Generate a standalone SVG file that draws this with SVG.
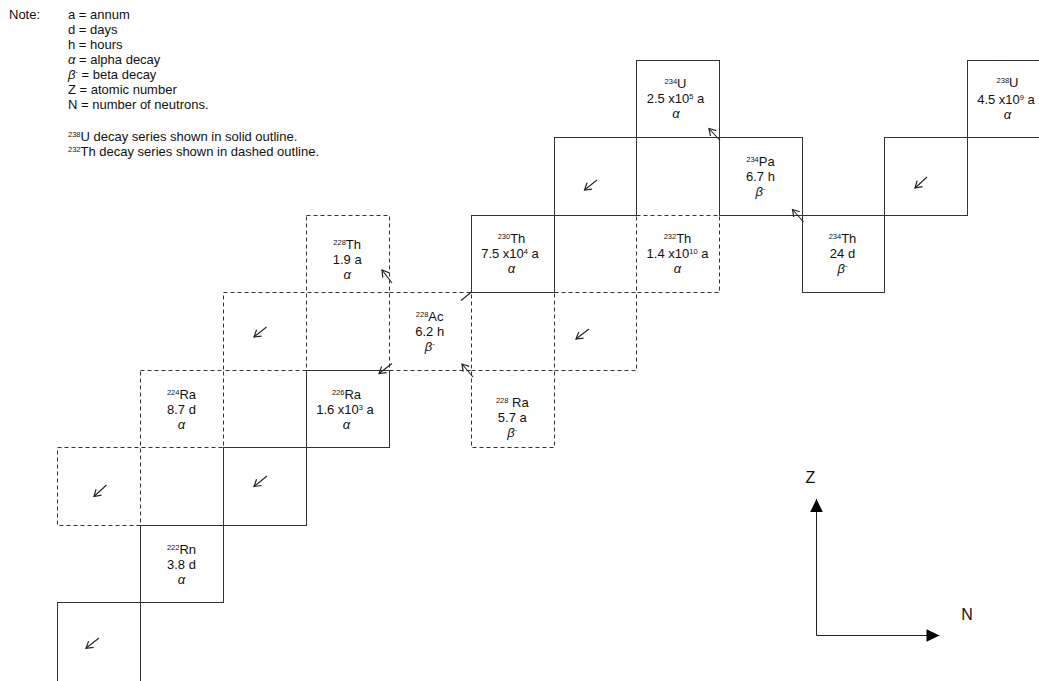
<svg xmlns="http://www.w3.org/2000/svg" width="1039" height="681" viewBox="0 0 1039 681">
<style>
  text { font-family: "Liberation Sans", Arial, sans-serif; fill: #111; }
  .note { font-size: 13px; }
  .lab { font-size: 13px; text-anchor: middle; }
  .s { font-size: 7.5px; }
  .i { font-style: italic; }
  .ax { font-size: 16px; text-anchor: middle; }
  .solid { fill: none; stroke: #333; stroke-width: 1; }
  .dash { fill: none; stroke: #333; stroke-width: 1; stroke-dasharray: 4 3; }
  .arr { fill: none; stroke: #222; stroke-width: 1.1; marker-end: url(#oa); }
  .seg { fill: none; stroke: #222; stroke-width: 1.1; }
  .axis { fill: none; stroke: #222; stroke-width: 1; marker-end: url(#fa); }
</style>
<defs>
  <marker id="oa" markerUnits="userSpaceOnUse" markerWidth="14" markerHeight="14" viewBox="-8 -7 10 14" refX="0" refY="0" orient="auto" overflow="visible">
    <path d="M-6.5,-4 L0,0 L-6.5,4" fill="none" stroke="#222" stroke-width="1.2"/>
  </marker>
  <marker id="fa" markerUnits="userSpaceOnUse" markerWidth="16" markerHeight="16" viewBox="-14 -8 16 16" refX="0" refY="0" orient="auto" overflow="visible">
    <path d="M-13,-6.3 L0,0 L-13,6.3 Z" fill="#000"/>
  </marker>
</defs>
<rect x="0" y="0" width="1039" height="681" fill="#fff"/>

<g id="legend">
  <text class="note" x="9" y="18.5">Note:</text>
  <text class="note" x="68" y="18.5">a = annum</text>
  <text class="note" x="68" y="33.5">d = days</text>
  <text class="note" x="68" y="48.5">h = hours</text>
  <text class="note" x="68" y="63.5"><tspan class="i">α</tspan> = alpha decay</text>
  <text class="note" x="68" y="78.5"><tspan class="i">β</tspan><tspan class="s" dy="-5">-</tspan><tspan dy="5"> = beta decay</tspan></text>
  <text class="note" x="68" y="93.5">Z = atomic number</text>
  <text class="note" x="68" y="108.5">N = number of neutrons.</text>
  <text class="note" x="68" y="140.5"><tspan class="s" dy="-4">238</tspan><tspan dy="4">U decay series shown in solid outline.</tspan></text>
  <text class="note" x="68" y="155.5"><tspan class="s" dy="-4">232</tspan><tspan dy="4">Th decay series shown in dashed outline.</tspan></text>
</g>

<!-- Thorium-232 series (dashed) -->
<g id="th232">
  <rect class="dash" x="636.5" y="215.5" width="83" height="77"/>
  <text class="lab" x="677.5" y="243.3"><tspan class="s" dy="-4">232</tspan><tspan dy="4">Th</tspan></text>
  <text class="lab" x="677.5" y="258.3">1.4 x10<tspan class="s" dy="-4">10</tspan><tspan dy="4"> a</tspan></text>
  <text class="lab i" x="677.5" y="273.3">α</text>
</g>
<g id="th232-alpha-cell"><rect class="dash" x="554.5" y="292.5" width="82" height="78"/></g>
<g id="ra228">
  <rect class="dash" x="471.5" y="370.5" width="83" height="77"/>
  <text class="lab" x="512.3" y="407.3"><tspan class="s" dy="-4">228</tspan><tspan dy="4"> Ra</tspan></text>
  <text class="lab" x="512.3" y="422.3">5.7 a</text>
  <text class="lab" x="512.3" y="437.3"><tspan class="i">β</tspan><tspan class="s" dy="-5">-</tspan></text>
</g>
<g id="ac228">
  <rect class="dash" x="389.5" y="292.5" width="82" height="78"/>
  <text class="lab" x="429.7" y="320.8"><tspan class="s" dy="-4">228</tspan><tspan dy="4">Ac</tspan></text>
  <text class="lab" x="429.7" y="335.8">6.2 h</text>
  <text class="lab" x="429.7" y="350.8"><tspan class="i">β</tspan><tspan class="s" dy="-5">-</tspan></text>
</g>
<g id="th228">
  <rect class="dash" x="306.5" y="215.5" width="83" height="77"/>
  <text class="lab" x="347.2" y="249"><tspan class="s" dy="-4">228</tspan><tspan dy="4">Th</tspan></text>
  <text class="lab" x="347.2" y="264">1.9 a</text>
  <text class="lab i" x="347.2" y="279">α</text>
</g>
<g id="th228-alpha-cell"><rect class="dash" x="223.5" y="292.5" width="83" height="78"/></g>
<g id="ra224">
  <rect class="dash" x="140.5" y="370.5" width="83" height="77"/>
  <text class="lab" x="181.5" y="399"><tspan class="s" dy="-4">224</tspan><tspan dy="4">Ra</tspan></text>
  <text class="lab" x="181.5" y="414">8.7 d</text>
  <text class="lab i" x="181.5" y="429">α</text>
</g>
<g id="ra224-alpha-cell"><rect class="dash" x="57.5" y="447.5" width="83" height="78"/></g>

<!-- Uranium-238 series (solid) -->
<g id="u238">
  <rect class="solid" x="967.5" y="60.5" width="83" height="77"/>
  <text class="lab" x="1007.5" y="87"><tspan class="s" dy="-4">238</tspan><tspan dy="4">U</tspan></text>
  <text class="lab" x="1006" y="103.5">4.5 x10<tspan class="s" dy="-4">9</tspan><tspan dy="4"> a</tspan></text>
  <text class="lab i" x="1007.5" y="118.5">α</text>
</g>
<g id="u238-alpha-cell"><rect class="solid" x="884.5" y="137.5" width="83" height="78"/></g>
<g id="th234">
  <rect class="solid" x="802.5" y="215.5" width="82" height="77"/>
  <text class="lab" x="842.5" y="243.3"><tspan class="s" dy="-4">234</tspan><tspan dy="4">Th</tspan></text>
  <text class="lab" x="842.5" y="258.3">24 d</text>
  <text class="lab" x="842.5" y="273.3"><tspan class="i">β</tspan><tspan class="s" dy="-5">-</tspan></text>
</g>
<g id="pa234">
  <rect class="solid" x="719.5" y="137.5" width="83" height="78"/>
  <text class="lab" x="760.5" y="165.8"><tspan class="s" dy="-4">234</tspan><tspan dy="4">Pa</tspan></text>
  <text class="lab" x="760.5" y="180.8">6.7 h</text>
  <text class="lab" x="760.5" y="195.8"><tspan class="i">β</tspan><tspan class="s" dy="-5">-</tspan></text>
</g>
<g id="u234">
  <rect class="solid" x="636.5" y="60.5" width="83" height="77"/>
  <text class="lab" x="675.5" y="88.3"><tspan class="s" dy="-4">234</tspan><tspan dy="4">U</tspan></text>
  <text class="lab" x="675.5" y="103.3">2.5 x10<tspan class="s" dy="-4">5</tspan><tspan dy="4"> a</tspan></text>
  <text class="lab i" x="676" y="118.3">α</text>
</g>
<g id="u234-alpha-cell"><rect class="solid" x="554.5" y="137.5" width="82" height="78"/></g>
<g id="th230">
  <rect class="solid" x="471.5" y="215.5" width="83" height="77"/>
  <text class="lab" x="511.5" y="243.3"><tspan class="s" dy="-4">230</tspan><tspan dy="4">Th</tspan></text>
  <text class="lab" x="510" y="258.3">7.5 x10<tspan class="s" dy="-4">4</tspan><tspan dy="4"> a</tspan></text>
  <text class="lab i" x="511.5" y="273.3">α</text>
</g>
<g id="ra226">
  <rect class="solid" x="306.5" y="370.5" width="83" height="77"/>
  <text class="lab" x="346.5" y="399"><tspan class="s" dy="-4">226</tspan><tspan dy="4">Ra</tspan></text>
  <text class="lab" x="345" y="414">1.6 x10<tspan class="s" dy="-4">3</tspan><tspan dy="4"> a</tspan></text>
  <text class="lab i" x="346.5" y="429">α</text>
</g>
<g id="ra226-alpha-cell"><rect class="solid" x="223.5" y="447.5" width="83" height="78"/></g>
<g id="rn222">
  <rect class="solid" x="140.5" y="525.5" width="83" height="77"/>
  <text class="lab" x="181.5" y="554"><tspan class="s" dy="-4">222</tspan><tspan dy="4">Rn</tspan></text>
  <text class="lab" x="181.5" y="569">3.8 d</text>
  <text class="lab i" x="181.5" y="584">α</text>
</g>
<g id="rn222-alpha-cell"><rect class="solid" x="57.5" y="602.5" width="83" height="90"/></g>

<g id="connectors">
  <!-- alpha decays -->
  <path class="arr" d="M927,177 L915,188"/>
  <path class="arr" d="M597,180 L584.5,190"/>
  <path class="arr" d="M589,329 L576,339"/>
  <path class="arr" d="M266.5,327 L254,337"/>
  <path class="arr" d="M267,476 L254,486.5"/>
  <path class="arr" d="M106.5,485 L94,496.5"/>
  <path class="arr" d="M99,638 L86,648.3"/>
  <path class="seg" d="M472,291.5 L461,300.5"/>
  <path class="arr" d="M392,363.5 L379,373.5"/>
  <!-- beta decays -->
  <path class="arr" d="M803.5,222 L792.5,209.5"/>
  <path class="arr" d="M720,140.5 L709,128.5"/>
  <path class="arr" d="M473,377 L462,364"/>
  <path class="arr" d="M392,283 L382,270"/>
</g>

<g id="axes">
  <path class="axis" d="M816.5,635.5 L816.5,499"/>
  <path class="axis" d="M816.5,635.5 L939.5,635.5"/>
  <text class="ax" x="810.5" y="482.5">Z</text>
  <text class="ax" x="967" y="620">N</text>
</g>
</svg>
